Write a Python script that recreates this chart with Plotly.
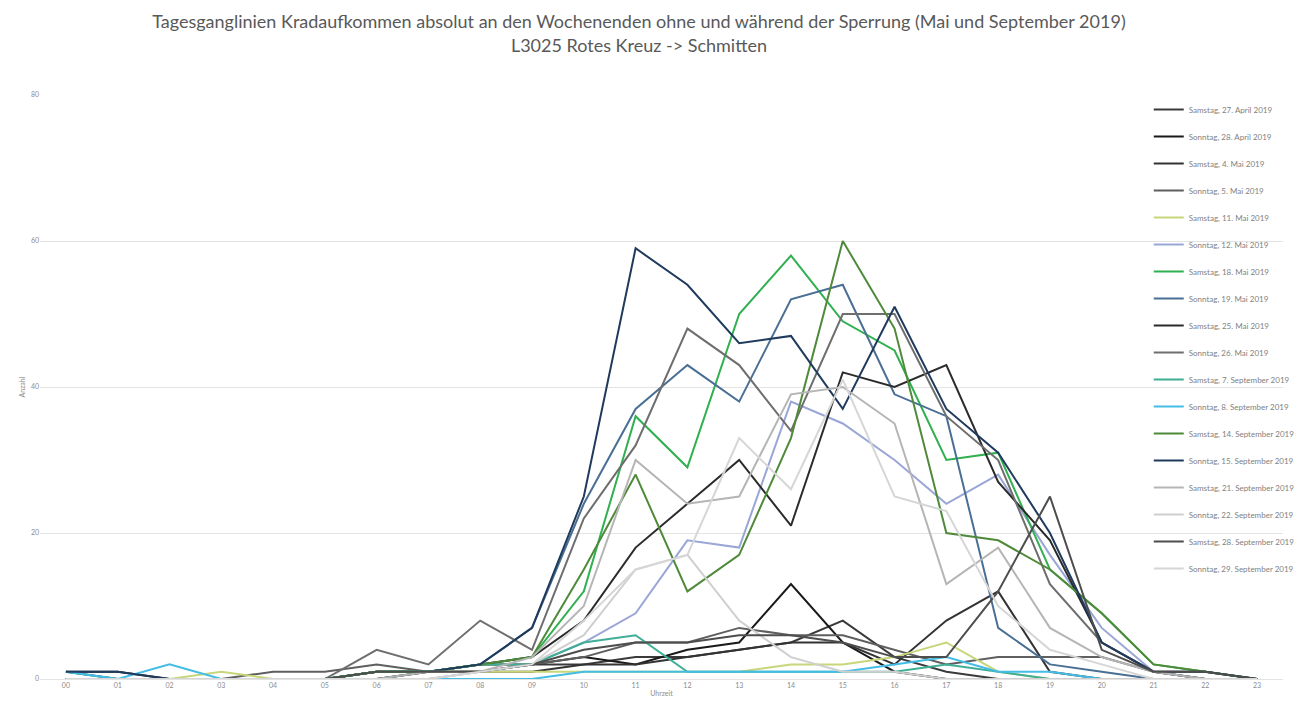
import plotly.graph_objects as go

# Hour-of-day categories
hours = [f"{h:02d}" for h in range(24)]

# Motorcycle counts per hour, one list per weekend day
sa_27_apr = [0, 0, 0, 0, 0, 0, 1, 1, 1, 2, 2, 3, 3, 4, 5, 8, 3, 1, 0, 0, 0, 0, 0, 0]
so_28_apr = [1, 1, 0, 0, 0, 0, 1, 1, 2, 2, 3, 2, 4, 5, 13, 5, 1, 0, 0, 0, 0, 0, 0, 0]
sa_04_mai = [0, 0, 0, 0, 0, 0, 0, 1, 1, 1, 2, 2, 3, 4, 5, 5, 2, 8, 12, 1, 0, 0, 0, 0]
so_05_mai = [0, 0, 0, 0, 1, 1, 2, 1, 1, 2, 3, 5, 5, 7, 6, 6, 4, 2, 3, 3, 3, 1, 1, 0]
sa_11_mai = [0, 0, 0, 1, 0, 0, 0, 1, 1, 1, 1, 1, 1, 1, 2, 2, 3, 5, 1, 0, 0, 0, 0, 0]
so_12_mai = [0, 0, 0, 0, 0, 0, 0, 0, 1, 2, 5, 9, 19, 18, 38, 35, 30, 24, 28, 17, 7, 1, 0, 0]
sa_18_mai = [1, 0, 0, 0, 0, 0, 1, 1, 2, 3, 12, 36, 29, 50, 58, 49, 45, 30, 31, 15, 9, 2, 1, 0]
so_19_mai = [1, 0, 0, 0, 0, 0, 1, 1, 2, 7, 24, 37, 43, 38, 52, 54, 39, 36, 7, 2, 1, 0, 0, 0]
sa_25_mai = [0, 0, 0, 0, 0, 0, 1, 1, 2, 3, 8, 18, 24, 30, 21, 42, 40, 43, 27, 19, 5, 1, 0, 0]
so_26_mai = [0, 0, 0, 0, 0, 0, 4, 2, 8, 4, 22, 32, 48, 43, 34, 50, 50, 36, 30, 13, 5, 1, 0, 0]
sa_07_sep = [0, 0, 0, 0, 0, 0, 1, 1, 2, 2, 5, 6, 1, 1, 1, 1, 1, 2, 1, 0, 0, 0, 0, 0]
so_08_sep = [1, 0, 2, 0, 0, 0, 0, 0, 0, 0, 1, 1, 1, 1, 1, 1, 2, 3, 1, 1, 0, 0, 0, 0]
sa_14_sep = [0, 0, 0, 0, 0, 0, 1, 1, 2, 3, 15, 28, 12, 17, 33, 60, 48, 20, 19, 15, 9, 2, 1, 0]
so_15_sep = [1, 1, 0, 0, 0, 0, 0, 1, 2, 7, 25, 59, 54, 46, 47, 37, 51, 37, 31, 20, 5, 1, 1, 0]
sa_21_sep = [0, 0, 0, 0, 0, 0, 0, 1, 1, 3, 10, 30, 24, 25, 39, 40, 35, 13, 18, 7, 3, 1, 0, 0]
so_22_sep = [0, 0, 0, 0, 0, 0, 0, 0, 1, 2, 6, 15, 17, 8, 3, 1, 1, 0, 0, 0, 0, 0, 0, 0]
sa_28_sep = [0, 0, 0, 0, 0, 0, 1, 1, 1, 2, 4, 5, 5, 6, 6, 5, 3, 3, 12, 25, 4, 1, 1, 0]
so_29_sep = [0, 0, 0, 0, 0, 0, 0, 0, 1, 2, 8, 15, 17, 33, 26, 41, 25, 23, 10, 4, 2, 0, 0, 0]

series = [
    ("Samstag, 27. April 2019", sa_27_apr, "#3a3a3a"),
    ("Sonntag, 28. April 2019", so_28_apr, "#1a1a1a"),
    ("Samstag, 4. Mai 2019", sa_04_mai, "#333333"),
    ("Sonntag, 5. Mai 2019", so_05_mai, "#5f5f5f"),
    ("Samstag, 11. Mai 2019", sa_11_mai, "#c8d67a"),
    ("Sonntag, 12. Mai 2019", so_12_mai, "#9aa6d6"),
    ("Samstag, 18. Mai 2019", sa_18_mai, "#30b050"),
    ("Sonntag, 19. Mai 2019", so_19_mai, "#4a6f94"),
    ("Samstag, 25. Mai 2019", sa_25_mai, "#2b2b2b"),
    ("Sonntag, 26. Mai 2019", so_26_mai, "#6e6e6e"),
    ("Samstag, 7. September 2019", sa_07_sep, "#3fae96"),
    ("Sonntag, 8. September 2019", so_08_sep, "#44bde6"),
    ("Samstag, 14. September 2019", sa_14_sep, "#4f8a3a"),
    ("Sonntag, 15. September 2019", so_15_sep, "#1f3a5c"),
    ("Samstag, 21. September 2019", sa_21_sep, "#b5b5b5"),
    ("Sonntag, 22. September 2019", so_22_sep, "#cfcfcf"),
    ("Samstag, 28. September 2019", sa_28_sep, "#4d4d4d"),
    ("Sonntag, 29. September 2019", so_29_sep, "#d6d6d6"),
]

fig = go.Figure()
for i, (name, vals, col) in enumerate(series):
    fig.add_trace(go.Scatter(
        x=hours, y=vals, name=name, mode="lines",
        line=dict(color=col, width=2),
        legendgroup=f"g{i}",
    ))

grid = "#e3e3e3"
tick_font = dict(family="Lato, Open Sans, sans-serif", size=7, color="#8c8c8c")

fig.update_layout(
    width=1304, height=711,
    margin=dict(l=40, r=21, t=95, b=32, autoexpand=False),
    paper_bgcolor="white", plot_bgcolor="white",
    title=dict(
        text="Tagesganglinien Kradaufkommen absolut an den Wochenenden ohne und während der Sperrung (Mai und September 2019)<br>L3025 Rotes Kreuz -> Schmitten",
        x=0.49, xref="container", xanchor="center",
        y=0.96, yref="container", yanchor="middle",
        font=dict(family="Lato, Open Sans, sans-serif", size=18, color="#595959"),
    ),
    legend=dict(
        x=0.892, y=1.0, xanchor="left", yanchor="top",
        bgcolor="rgba(0,0,0,0)",
        font=dict(family="Lato, Open Sans, sans-serif", size=8, color="#7f7f7f"),
        tracegroupgap=8, itemwidth=30,
    ),
    xaxis=dict(
        type="category", range=[-0.5, 23.5],
        showgrid=False, showline=True, linecolor=grid, linewidth=1,
        ticks="", tickfont=tick_font,
        title=dict(text="Uhrzeit", font=tick_font, standoff=2),
    ),
    yaxis=dict(
        range=[0, 80], dtick=20,
        showgrid=True, gridcolor=grid, gridwidth=1,
        zeroline=False, showline=False, ticks="",
        tickfont=tick_font,
        title=dict(text="Anzahl", font=tick_font, standoff=4),
    ),
)

fig.write_html("out.html")
